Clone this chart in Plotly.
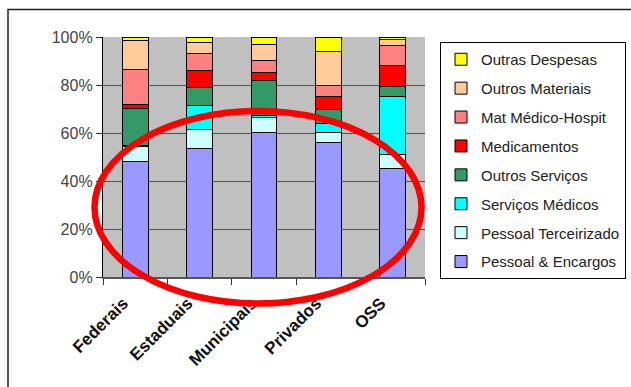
import plotly.graph_objects as go

# Hospital expense composition by type of administration (share of total, %)
categories = ["Federais", "Estaduais", "Municipais", "Privados", "OSS"]

pessoal_encargos = [48.1, 53.7, 60.3, 56.2, 45.4]
pessoal_terceirizado = [6.1, 7.6, 6.2, 4.1, 5.5]
servicos_medicos = [0.6, 10.3, 0.7, 3.6, 24.2]
outros_servicos = [15.5, 7.4, 14.5, 5.9, 4.2]
medicamentos = [1.6, 6.9, 3.5, 5.4, 8.7]
mat_medico_hospit = [14.5, 7.2, 5.1, 4.7, 8.5]
outros_materiais = [12.2, 4.8, 6.7, 14.2, 2.4]
outras_despesas = [1.4, 2.1, 3.0, 5.9, 1.1]

y_ticks = [0, 20, 40, 60, 80, 100]
y_tick_labels = [f"{v}%" for v in y_ticks]

# stacked bottom to top
series = [
    ("Pessoal & Encargos", pessoal_encargos, "#9999FF"),
    ("Pessoal Terceirizado", pessoal_terceirizado, "#CCFFFF"),
    ("Serviços Médicos", servicos_medicos, "#00FFFF"),
    ("Outros Serviços", outros_servicos, "#339966"),
    ("Medicamentos", medicamentos, "#FF0000"),
    ("Mat Médico-Hospit", mat_medico_hospit, "#FF8080"),
    ("Outros Materiais", outros_materiais, "#FFCC99"),
    ("Outras Despesas", outras_despesas, "#FFFF00"),
]

FONT = "Liberation Sans, Arial, sans-serif"

fig = go.Figure()
n = len(series)
for i, (name, values, color) in enumerate(series):
    fig.add_trace(go.Bar(
        x=categories, y=values, name=name, legendgroup=name,
        legendrank=n - i,  # top segment listed first
        marker=dict(color=color, line=dict(color="#000000", width=1)),
    ))

# plot area in pixels
W, H = 631, 387
L, R, T, B = 103, 206, 37, 110
pw, ph = W - L - R, H - T - B


def px(x):
    return (x - L) / pw


def py(y):
    return (H - B - y) / ph


fig.update_layout(
    width=W, height=H,
    margin=dict(l=L, r=R, t=T, b=B, pad=0, autoexpand=False),
    barmode="stack", bargap=0.6,
    paper_bgcolor="#FFFFFF", plot_bgcolor="#C0C0C0",
    font=dict(family=FONT, size=15, color="#222222"),
    showlegend=True,
    legend=dict(
        xref="container", yref="container",
        x=440 / W, y=1 - 42 / H, xanchor="left", yanchor="top",
        traceorder="grouped", tracegroupgap=6.4, maxheight=320,
        bordercolor="#000000", borderwidth=1, bgcolor="#FFFFFF",
        font=dict(family=FONT, size=15, color="#222222"),
    ),
    xaxis=dict(
        tickangle=-45, showgrid=False, showline=True, linecolor="#555555",
        linewidth=1.5, ticks="outside", tickson="boundaries", ticklen=6,
        tickcolor="#333333", ticklabelstandoff=8, ticklabelshift=-12,
        tickfont=dict(family=FONT, size=17, color="#111111", weight="bold"),
    ),
    yaxis=dict(
        range=[0, 100], tickvals=y_ticks, ticktext=y_tick_labels,
        showgrid=True, gridcolor="#505050", gridwidth=1.3,
        showline=True, linecolor="#000000", linewidth=1.3,
        ticks="outside", ticklen=6, tickcolor="#333333",
        tickfont=dict(family=FONT, size=16, color="#444444"),
        zeroline=False,
    ),
    shapes=[
        # outer chart frame
        dict(type="rect", xref="paper", yref="paper",
             x0=px(8), x1=px(660), y0=py(420), y1=py(9.5),
             line=dict(color="#222222", width=1.5), layer="below"),
        # highlight ellipse
        dict(type="circle", xref="paper", yref="paper",
             x0=px(94.5), x1=px(421.5), y0=py(303.5), y1=py(111),
             line=dict(color="#FF0000", width=6.5), layer="above"),
    ],
)

fig.write_html("out.html")
